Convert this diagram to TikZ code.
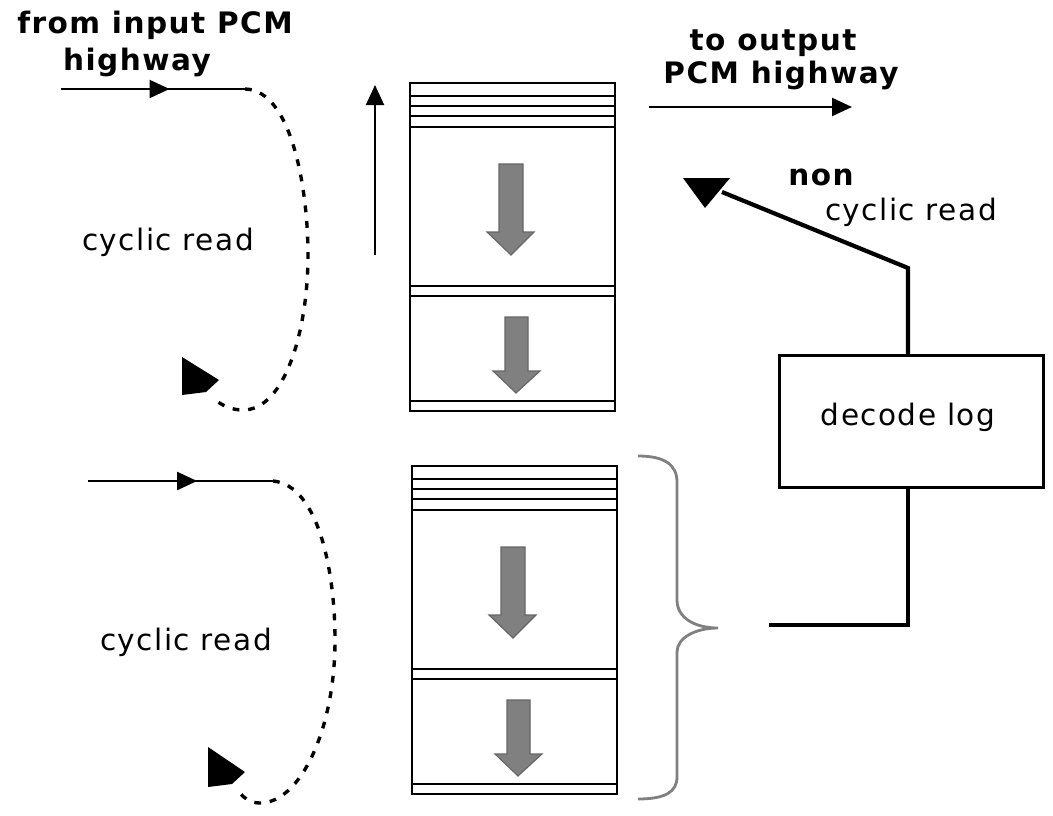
\documentclass[tikz,border=0pt]{standalone}
\usepackage{fontspec}
\setmainfont{DejaVu Sans}
\usetikzlibrary{arrows.meta,decorations.markings}

\begin{document}
\begin{tikzpicture}[x=0.025cm,y=-0.025cm,
    txt/.style={font=\fontsize{21}{24}\selectfont\addfontfeature{LetterSpace=5}, inner sep=0pt, anchor=base},
    boldtxt/.style={font=\fontsize{21}{24}\selectfont\bfseries\addfontfeature{LetterSpace=5}, inner sep=0pt, anchor=base},
    thinline/.style={line width=1.4pt},
    tip/.style={-{Triangle[length=0.5cm,width=0.45cm]}},
    midarrow/.style={postaction={decorate}, decoration={markings,
        mark=at position #1 with {\arrow{Triangle[length=0.5cm,width=0.45cm]}}}},
    cyclic/.style={line width=2.4pt, dash pattern=on 0.17cm off 0.22cm},
    blockline/.style={line width=2pt},
    greyarrow/.style={fill=gray, draw=black!60, line width=0.8pt},
    brace/.style={draw=gray, line width=2pt}
]
    \useasboundingbox (0,0) rectangle (1053,816);

    % labels
    \node[boldtxt] (from) at (155,33) {from input PCM};
    \node[boldtxt] (hwin) at (137,70) {highway};
    \node[txt] (cyctop) at (168,250) {cyclic read};
    \node[txt] (cycbot) at (186,650) {cyclic read};
    \node[boldtxt] (toout) at (773,50) {to output};
    \node[boldtxt] (hwout) at (781,83) {PCM highway};
    \node[boldtxt] (non) at (821,185) {non};
    \node[txt] (noncyc) at (911,220) {cyclic read};

    % memory blocks
    \foreach \dx/\dy in {410/83, 412/466} {
        \begin{scope}[shift={(\dx,\dy)}]
            \draw[blockline] (0,0) rectangle (205,328);
            \foreach \ly in {13,23,33,44,203,213,318}
                \draw[blockline] (0,\ly) -- (205,\ly);
            \draw[greyarrow] (89,81) -- (113,81) -- (113,149) -- (124,149) -- (101,172)
                -- (77,149) -- (89,149) -- cycle;
            \draw[greyarrow] (95,234) -- (118,234) -- (118,288) -- (130,288) -- (106,310)
                -- (83,288) -- (95,288) -- cycle;
        \end{scope}
    }

    % input highways and cyclic reads
    \coordinate (intop) at (61,89);
    \coordinate (bendtop) at (245,89);
    \draw[thinline, midarrow=0.59] (intop) -- (bendtop);
    \draw[cyclic] (bendtop) .. controls (292,90) and (308,190) .. (308,255)
        .. controls (308,330) and (285,410) .. (243,410)
        .. controls (232,410) and (224,406) .. (218,402);
    \fill (182,357) -- (219,380) -- (206,392) -- (182,395) -- cycle;

    \coordinate (inbot) at (88,481);
    \coordinate (bendbot) at (273,481);
    \draw[thinline, midarrow=0.59] (inbot) -- (bendbot);
    \draw[cyclic] (bendbot) .. controls (318,485) and (335,570) .. (335,640)
        .. controls (335,730) and (300,803) .. (260,803)
        .. controls (250,803) and (244,798) .. (240,793);
    \fill (208,747) -- (245,772) -- (232,784) -- (208,787) -- cycle;

    % write pointer and output highway
    \coordinate (upbot) at (375,255);
    \coordinate (uptop) at (375,85);
    \draw[thinline, tip] (upbot) -- (uptop);
    \coordinate (outa) at (649,107);
    \coordinate (outb) at (852,107);
    \draw[thinline, tip] (outa) -- (outb);

    % decode log and non cyclic read
    \node[draw, line width=2pt, minimum width=6.6cm, minimum height=3.3cm,
        inner sep=0pt] (decode) at (911.5,421.5) {};
    \node[txt] (declab) at (908,425) {decode log};
    \coordinate (ncbend) at (908,268);
    \coordinate (ncend) at (722,192);
    \coordinate (link) at (769,625);
    \draw[line width=3pt] (decode.north -| ncbend) -- (ncbend) -- (ncend);
    \fill (683,178) -- (730,178) -- (705,208) -- cycle;
    \draw[line width=3pt] (decode.south -| ncbend) -- (ncbend |- link) -- (link);

    % brace
    \draw[brace] (638,456) .. controls (665,456) and (677,465) .. (677,482) -- (677,600)
        .. controls (677,618) and (695,628) .. (718,628)
        .. controls (695,628) and (677,638) .. (677,652) -- (677,777)
        .. controls (677,792) and (665,799) .. (638,799);
\end{tikzpicture}
\end{document}
